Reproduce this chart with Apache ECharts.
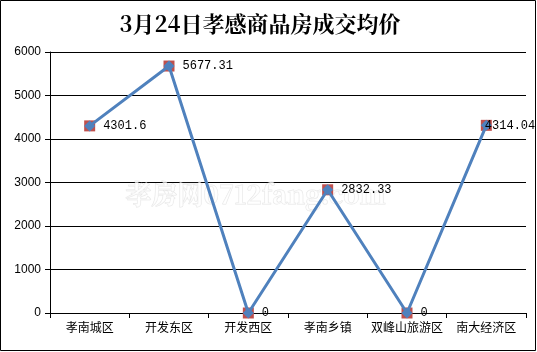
<!DOCTYPE html>
<html>
<head>
<meta charset="utf-8">
<script src="https://cdn.jsdelivr.net/npm/echarts@6/dist/echarts.min.js"></script>
<style>
html, body { margin: 0; padding: 0; background: #fff; }
#chart { width: 537px; height: 352px; }
</style>
</head>
<body>
<div id="chart"></div>
<script>
// 区域
var categories = ['孝南城区', '开发东区', '开发西区', '孝南乡镇', '双峰山旅游区', '南大经济区'];
// 均价
var prices = [4301.6, 5677.31, 0, 2832.33, 0, 4314.04];
// y轴
var yMin = 0, yMax = 6000, yStep = 1000;

(function () {
    var myChart = echarts.init(document.getElementById('chart'));
    // 最后一个标签贴着点放
    var lineData = prices.map(function (v, i) {
        if (i === prices.length - 1) {
            return { value: v, label: { distance: -7 } };
        }
        return v;
    });
    var option = {
        backgroundColor: '#fff',
        animation: false,
        title: {
            text: '3月24日孝感商品房成交均价',
            left: 255,
            top: 8,
            textAlign: 'center',
            textStyle: {
                fontFamily: 'Noto Serif CJK SC, serif',
                fontSize: 22,
                fontWeight: 'bold',
                color: '#000'
            }
        },
        graphic: [
            {
                type: 'rect',
                shape: { x: 0.5, y: 0.5, width: 535, height: 350 },
                style: { fill: 'none', stroke: '#000', lineWidth: 1 },
                z: 100
            },
            {
                // 水印
                type: 'text',
                left: 125,
                top: 181,
                style: {
                    text: '孝房网0712fang.com',
                    font: 'bold 26px "Noto Serif CJK SC", serif',
                    fill: 'rgba(255,255,255,0.7)',
                    stroke: 'rgba(180,180,180,0.35)',
                    lineWidth: 1
                },
                z: 1
            }
        ],
        grid: { left: 50, right: 11, top: 52, bottom: 39, containLabel: false },
        xAxis: {
            type: 'category',
            data: categories,
            boundaryGap: true,
            axisLine: { lineStyle: { color: '#000', width: 1 } },
            axisTick: { show: true, length: 5, lineStyle: { color: '#000' } },
            axisLabel: {
                color: '#000',
                fontSize: 12,
                fontFamily: 'Noto Sans CJK SC',
                margin: 8,
                interval: 0
            }
        },
        yAxis: {
            type: 'value',
            min: yMin,
            max: yMax,
            interval: yStep,
            axisLine: { show: true, lineStyle: { color: '#000', width: 1 } },
            axisTick: { show: true, length: 5, lineStyle: { color: '#000' } },
            axisLabel: {
                color: '#000',
                fontSize: 12,
                fontFamily: 'Liberation Sans, Arial',
                margin: 9,
                formatter: function (v) { return String(v); }
            },
            splitLine: { show: true, lineStyle: { color: '#000', width: 1 } }
        },
        series: [
            {
                // 红色方块
                type: 'line',
                data: prices,
                symbol: 'rect',
                symbolSize: 11,
                showAllSymbol: true,
                itemStyle: { color: '#C0504D' },
                lineStyle: { width: 0, opacity: 0 },
                silent: true,
                z: 2
            },
            {
                type: 'line',
                data: lineData,
                symbol: 'diamond',
                symbolSize: 11,
                showAllSymbol: true,
                itemStyle: { color: '#4F81BD' },
                lineStyle: { color: '#4F81BD', width: 3 },
                label: {
                    show: true,
                    position: 'right',
                    distance: 8,
                    color: '#000',
                    fontSize: 12,
                    fontFamily: 'Liberation Mono, monospace'
                },
                z: 3
            }
        ]
    };
    myChart.setOption(option);
    window.addEventListener('resize', function () {
        myChart.resize();
    });
})();
</script>
</body>
</html>
